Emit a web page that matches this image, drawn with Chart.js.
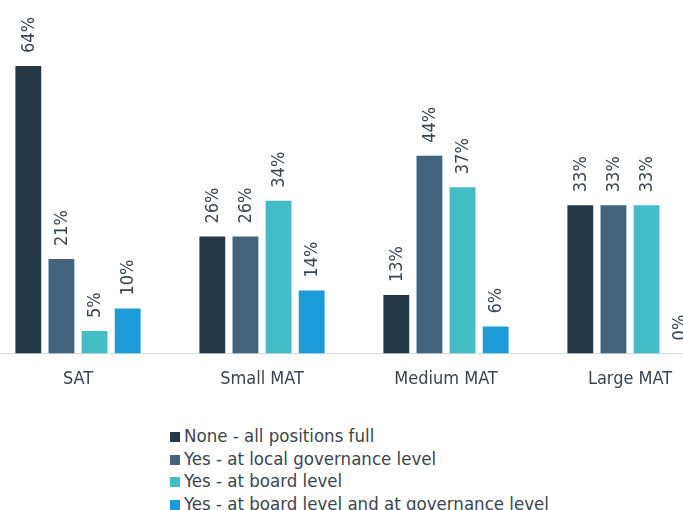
<!DOCTYPE html>
<html>
<head>
<meta charset="utf-8">
<script src="https://cdn.jsdelivr.net/npm/chart.js@4"></script>
<style>
    html, body { margin: 0; padding: 0; background: #fff; }
    body { width: 683px; height: 510px; overflow: hidden; position: relative; font-family: "DejaVu Sans Condensed", "DejaVu Sans", sans-serif; }
    #wrap { position: absolute; left: -14px; top: 0; width: 736px; height: 405px; }
    #legend { position: absolute; left: 170px; top: 425px; font-size: 18.5px; color: #3a4550; line-height: 22.5px; white-space: nowrap; }
    #legend span.box { display: inline-block; width: 10px; height: 10px; margin-right: 4px; vertical-align: 0px; }
</style>
</head>
<body>
<div id="wrap"><canvas id="myChart"></canvas></div>
<div id="legend"></div>
<script>
const categories = ['SAT', 'Small MAT', 'Medium MAT', 'Large MAT']
const seriesNames = [
    'None - all positions full',
    'Yes - at local governance level',
    'Yes - at board level',
    'Yes - at board level and at governance level'
]
const noneFull = [64, 26, 13, 33]
const localLevel = [21, 26, 44, 33]
const boardLevel = [5, 34, 37, 33]
const bothLevels = [10, 14, 6, 0]
const colors = ['#243746', '#42647f', '#44bcc7', '#1b9cd9']

// value labels, rotated, above each bar
const barLabels = {
    id: 'barLabels',
    afterDatasetsDraw(chart) {
        const ctx = chart.ctx
        ctx.save()
        ctx.font = '18px "DejaVu Sans Condensed"'
        ctx.fillStyle = '#3a4550'
        ctx.textAlign = 'left'
        ctx.textBaseline = 'middle'
        chart.data.datasets.forEach((ds, i) => {
            chart.getDatasetMeta(i).data.forEach((bar, j) => {
                ctx.save()
                ctx.translate(bar.x + 1, bar.y - 13)
                ctx.rotate(-Math.PI / 2)
                ctx.fillText(ds.data[j] + '%', 0, 0)
                ctx.restore()
            })
        })
        ctx.restore()
    }
}

const data = {
    labels: categories,
    datasets: [noneFull, localLevel, boardLevel, bothLevels].map((vals, i) => ({
        label: seriesNames[i],
        data: vals,
        backgroundColor: colors[i],
        categoryPercentage: 0.72,
        barPercentage: 0.78
    }))
}

const myChart = new Chart(document.getElementById('myChart'), {
    type: 'bar',
    data: data,
    plugins: [barLabels],
    options: {
        responsive: true,
        maintainAspectRatio: false,
        animation: false,
        layout: { padding: { top: 39, left: 0, right: 0, bottom: 0 } },
        plugins: {
            legend: { display: false },
            tooltip: { enabled: false }
        },
        scales: {
            x: {
                grid: { display: false, drawTicks: false },
                border: { display: true, color: '#d9d9d9', width: 1 },
                ticks: { color: '#3a4550', font: { size: 18, family: 'DejaVu Sans Condensed' }, padding: 15 }
            },
            y: {
                display: false,
                min: 0,
                max: 70
            }
        }
    }
})

// legend
const legendEl = document.getElementById('legend')
seriesNames.forEach((name, i) => {
    const row = document.createElement('div')
    row.innerHTML = '<span class="box" style="background:' + colors[i] + '"></span>' + name
    legendEl.appendChild(row)
})
</script>
</body>
</html>
